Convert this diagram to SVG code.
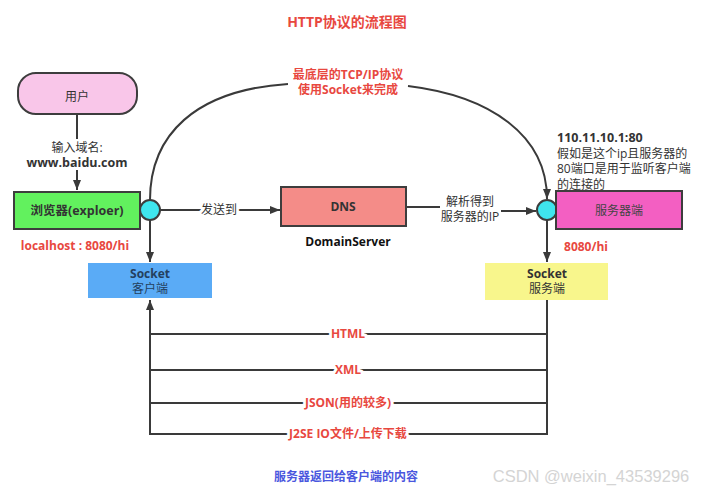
<svg xmlns="http://www.w3.org/2000/svg" width="702" height="495" viewBox="0 0 702 495">
<defs>
<marker id="arr" viewBox="0 0 10 8" refX="10" refY="4" markerWidth="10" markerHeight="8" markerUnits="userSpaceOnUse" orient="auto">
<path d="M0,0 L10,4 L0,8 z" fill="#3a3a3a"/>
</marker>
<style>
text{font-family:"Open Sans","Noto Sans CJK SC",sans-serif;text-anchor:middle}
.red{fill:#e8483f;font-weight:bold;font-size:12px}
.dark{fill:#333;font-size:12px}
.b{font-weight:bold}
.node{stroke:#3d3d3d;stroke-width:2}
.ln{fill:none;stroke:#3a3a3a;stroke-width:2}
.halo{stroke:#fff;stroke-width:6;paint-order:stroke;stroke-linejoin:round}
.junc{fill:#3fe6ee;stroke:#3d3d3d;stroke-width:2}
</style>
</defs>
<rect width="702" height="495" fill="#fff"/>

<text x="347" y="27" class="red" style="font-size:14px">HTTP协议的流程图</text>

<g id="connectors">
<path class="ln" d="M77,114 L77,139"/>
<path class="ln" d="M77,170 L77,190" marker-end="url(#arr)"/>
<path class="ln" d="M160,210 L280,210" marker-end="url(#arr)"/>
<path class="ln" d="M406,207 L440,207"/>
<path class="ln" d="M501,211 L536,211" marker-end="url(#arr)"/>
<path class="ln" d="M150,200 C150,135 195,90 288,84"/>
<path class="ln" d="M408,86 C490,96 547,135 547,199" marker-end="url(#arr)"/>
<path class="ln" d="M150,220 L150,262" marker-end="url(#arr)"/>
<path class="ln" d="M547,220 L547,262" marker-end="url(#arr)"/>
<path class="ln" d="M547,300 L547,434 L150,434 L150,300" marker-end="url(#arr)"/>
<path class="ln" d="M547,334 L150,334 M547,370 L150,370 M547,403 L150,403"/>
<text x="77" y="152" class="dark">输入域名:</text>
<text x="77" y="167" class="dark b" style="font-size:12.5px">www.baidu.com</text>
<text x="219" y="214" class="dark halo">发送到</text>
<text x="470" y="206" class="dark">解析得到</text>
<text x="470" y="221" class="dark">服务器的IP</text>
<text x="348" y="79" class="red">最底层的TCP/IP协议</text>
<text x="348" y="94" class="red">使用Socket来完成</text>
<text x="348" y="338" class="red halo">HTML</text>
<text x="348" y="374" class="red halo">XML</text>
<text x="348" y="407" class="red halo">JSON(用的较多)</text>
<text x="348" y="438" class="red halo">J2SE IO文件/上传下载</text>
</g>

<g id="user">
<rect x="18" y="73" width="119" height="41" rx="18" fill="#f9c6e9" class="node"/>
<text x="77" y="101" class="dark">用户</text>
</g>

<g id="browser">
<rect x="14" y="192" width="126" height="37" fill="#62f15e" class="node"/>
<text x="77" y="215" class="dark b" style="font-size:12.5px">浏览器(exploer)</text>
<text x="75" y="250" class="red">localhost : 8080/hi</text>
</g>

<g id="junction-left">
<circle cx="150" cy="210" r="10" class="junc"/>
</g>

<g id="dns">
<rect x="281" y="187" width="125" height="39" fill="#f48c88" class="node"/>
<text x="343" y="211" class="dark b">DNS</text>
<text x="348" y="246" class="b" style="fill:#111;font-size:12px">DomainServer</text>
</g>

<g id="junction-right">
<circle cx="547" cy="210" r="10" class="junc"/>
</g>

<g id="server">
<rect x="556" y="191" width="126" height="38" fill="#f35fc2" class="node"/>
<text x="619" y="215" class="dark" style="fill:#444">服务器端</text>
<text x="557" y="142" class="dark b" style="text-anchor:start;font-size:12.5px">110.11.10.1:80</text>
<text x="557" y="158" class="dark" style="text-anchor:start">假如是这个ip且服务器的</text>
<text x="557" y="173" class="dark" style="text-anchor:start">80端口是用于监听客户端</text>
<text x="557" y="189" class="dark" style="text-anchor:start">的连接的</text>
<text x="586" y="251" class="red">8080/hi</text>
</g>

<g id="socket-client">
<rect x="88" y="263" width="124" height="35" fill="#5aabf6"/>
<text x="150" y="278" class="b" style="fill:#24405e;font-size:12px">Socket</text>
<text x="150" y="293" style="fill:#24405e;font-size:12px">客户端</text>
</g>

<g id="socket-server">
<rect x="485" y="263" width="123" height="37" fill="#f8f68c"/>
<text x="547" y="278" class="b" style="fill:#333;font-size:12px">Socket</text>
<text x="547" y="293" style="fill:#333;font-size:12px">服务端</text>
</g>

<text x="346" y="481" class="b" style="fill:#4a57de;font-size:12px">服务器返回给客户端的内容</text>
<text x="591" y="482" style="fill:#d4d4d4;font-family:'Liberation Sans',sans-serif;font-size:16.5px">CSDN @weixin_43539296</text>
</svg>
